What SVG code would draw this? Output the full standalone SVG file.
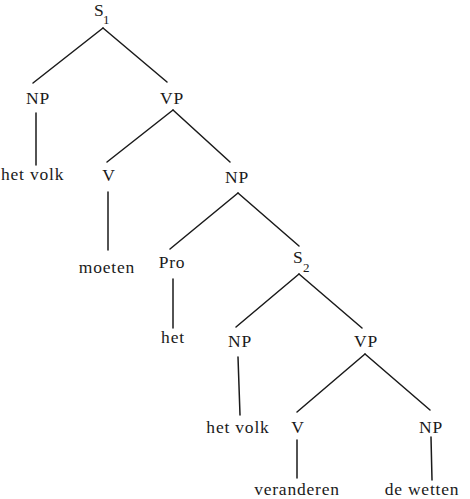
<svg xmlns="http://www.w3.org/2000/svg" width="470" height="499" viewBox="0 0 470 499">
<style>
text{font-family:"Liberation Serif","Times New Roman",serif;font-size:17.5px;fill:#1a1a1a;letter-spacing:0.8px}
.m{text-anchor:middle}
.sub{font-size:13px}
#connectors line{stroke:#1a1a1a;stroke-width:1.5;stroke-linecap:round}
</style>
<rect width="470" height="499" fill="#fff"/>
<g id="connectors">
<line x1="103" y1="28" x2="33" y2="83"/>
<line x1="103" y1="28" x2="167" y2="82"/>
<line x1="36" y1="113" x2="36" y2="165"/>
<line x1="173" y1="110" x2="107" y2="162"/>
<line x1="173" y1="110" x2="230" y2="162"/>
<line x1="108" y1="192" x2="108" y2="250"/>
<line x1="238" y1="193" x2="170" y2="249"/>
<line x1="238" y1="193" x2="299" y2="246"/>
<line x1="173" y1="279" x2="173" y2="328"/>
<line x1="299" y1="274" x2="236" y2="327"/>
<line x1="299" y1="274" x2="362" y2="328"/>
<line x1="238" y1="357" x2="240" y2="415"/>
<line x1="365" y1="354" x2="297" y2="412"/>
<line x1="365" y1="354" x2="430" y2="410"/>
<line x1="297" y1="440" x2="297" y2="478"/>
<line x1="431" y1="437" x2="432" y2="480"/>
</g>
<g id="S1"><text x="94" y="16">S</text><text class="sub" x="103" y="24">1</text></g>
<g id="NP1"><text class="m" x="38" y="104">NP</text></g>
<g id="VP1"><text class="m" x="172" y="104">VP</text></g>
<g id="hetvolk1"><text x="1" y="180">het volk</text></g>
<g id="V1"><text class="m" x="109" y="181">V</text></g>
<g id="NP2"><text class="m" x="237" y="183">NP</text></g>
<g id="moeten"><text class="m" x="107" y="273">moeten</text></g>
<g id="Pro"><text class="m" x="172" y="268">Pro</text></g>
<g id="S2"><text x="293" y="263">S</text><text class="sub" x="303" y="272">2</text></g>
<g id="het"><text class="m" x="173" y="343">het</text></g>
<g id="NP3"><text class="m" x="240" y="347">NP</text></g>
<g id="VP2"><text class="m" x="366" y="347">VP</text></g>
<g id="hetvolk2"><text class="m" x="238" y="433">het volk</text></g>
<g id="V2"><text class="m" x="298" y="433">V</text></g>
<g id="NP4"><text class="m" x="431" y="433">NP</text></g>
<g id="veranderen"><text class="m" x="297" y="495">veranderen</text></g>
<g id="dewetten"><text class="m" x="422" y="495">de wetten</text></g>
</svg>
